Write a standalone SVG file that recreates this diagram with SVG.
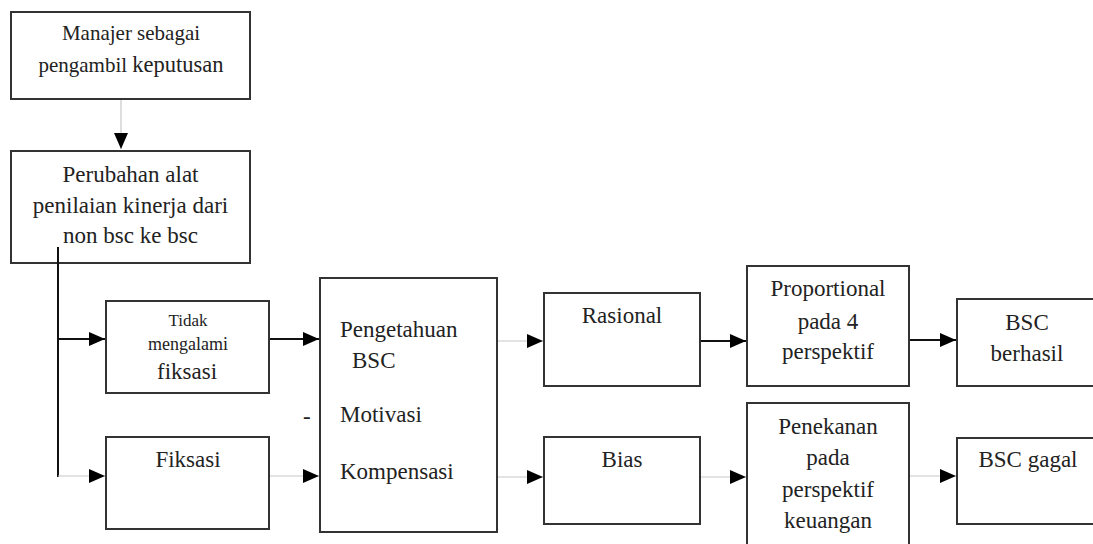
<svg xmlns="http://www.w3.org/2000/svg" width="1093" height="544" viewBox="0 0 1093 544" font-size="23">
<style>
.box{fill:#fff;stroke:#333;stroke-width:2}
text{font-family:"Liberation Serif","Times New Roman",serif;fill:#222}
.c{text-anchor:middle}
.dark{stroke:#111;stroke-width:2;fill:none}
.light{stroke:#c8c8c8;stroke-width:1.2;fill:none}
</style>
<defs>
<marker id="ah" markerUnits="userSpaceOnUse" markerWidth="16" markerHeight="14" refX="16" refY="7" orient="auto">
<path d="M0,0 L16,7 L0,14 z" fill="#000"/>
</marker>
</defs>
<rect width="1093" height="544" fill="#fff"/>
<g id="n1">
<rect class="box" x="11" y="12" width="239" height="87"/>
<text class="c" x="131" y="40" font-size="21">Manajer sebagai</text>
<text class="c" x="131" y="72" font-size="21">pengambil <tspan font-size="22.5">keputusan</tspan></text>
</g>
<g id="n2">
<rect class="box" x="11" y="151" width="239" height="112"/>
<text class="c" x="130.5" y="182">Perubahan alat</text>
<text class="c" x="130.5" y="213">penilaian kinerja dari</text>
<text class="c" x="130.5" y="243">non bsc ke bsc</text>
</g>
<g id="n3">
<rect class="box" x="106" y="301" width="163" height="92"/>
<text class="c" x="188" y="326" font-size="17">Tidak</text>
<text class="c" x="188" y="350" font-size="18">mengalami</text>
<text class="c" x="187" y="379">fiksasi</text>
</g>
<g id="n4">
<rect class="box" x="106" y="437" width="163" height="92"/>
<text class="c" x="188" y="467">Fiksasi</text>
</g>
<g id="n5">
<rect class="box" x="320" y="278" width="177" height="254"/>
<text x="340" y="337">Pengetahuan</text>
<text x="352" y="368">BSC</text>
<text x="340" y="422">Motivasi</text>
<text x="340" y="479">Kompensasi</text>
<text x="303" y="424">-</text>
</g>
<g id="n6">
<rect class="box" x="544" y="293" width="156" height="93"/>
<text class="c" x="622" y="323">Rasional</text>
</g>
<g id="n7">
<rect class="box" x="544" y="437" width="156" height="87"/>
<text class="c" x="622" y="467">Bias</text>
</g>
<g id="n8">
<rect class="box" x="747" y="266" width="162" height="120"/>
<text class="c" x="828" y="296">Proportional</text>
<text class="c" x="828" y="329">pada 4</text>
<text class="c" x="828" y="359">perspektif</text>
</g>
<g id="n9">
<rect class="box" x="747" y="403" width="162" height="150"/>
<text class="c" x="828" y="434">Penekanan</text>
<text class="c" x="828" y="465">pada</text>
<text class="c" x="828" y="497">perspektif</text>
<text class="c" x="828" y="528">keuangan</text>
</g>
<g id="n10">
<rect class="box" x="957" y="299" width="145" height="87"/>
<text class="c" x="1027" y="330">BSC</text>
<text class="c" x="1027" y="361">berhasil</text>
</g>
<g id="n11">
<rect class="box" x="957" y="438" width="145" height="86"/>
<text class="c" x="1028" y="467">BSC gagal</text>
</g>
<g id="connectors">
<line class="light" x1="121" y1="100" x2="121" y2="149" marker-end="url(#ah)"/>
<line class="dark" x1="58" y1="247" x2="58" y2="477"/>
<line class="dark" x1="58" y1="339" x2="105" y2="339" marker-end="url(#ah)"/>
<line class="light" x1="58" y1="476" x2="105" y2="476" marker-end="url(#ah)"/>
<line class="dark" x1="270" y1="339" x2="319" y2="339" marker-end="url(#ah)"/>
<line class="light" x1="270" y1="476" x2="319" y2="476" marker-end="url(#ah)"/>
<line class="light" x1="498" y1="341" x2="543" y2="341" marker-end="url(#ah)"/>
<line class="light" x1="498" y1="477" x2="543" y2="477" marker-end="url(#ah)"/>
<line class="dark" x1="701" y1="341" x2="746" y2="341" marker-end="url(#ah)"/>
<line class="light" x1="701" y1="477" x2="746" y2="477" marker-end="url(#ah)"/>
<line class="dark" x1="910" y1="340" x2="956" y2="340" marker-end="url(#ah)"/>
<line class="light" x1="910" y1="476" x2="956" y2="476" marker-end="url(#ah)"/>
</g>
</svg>
